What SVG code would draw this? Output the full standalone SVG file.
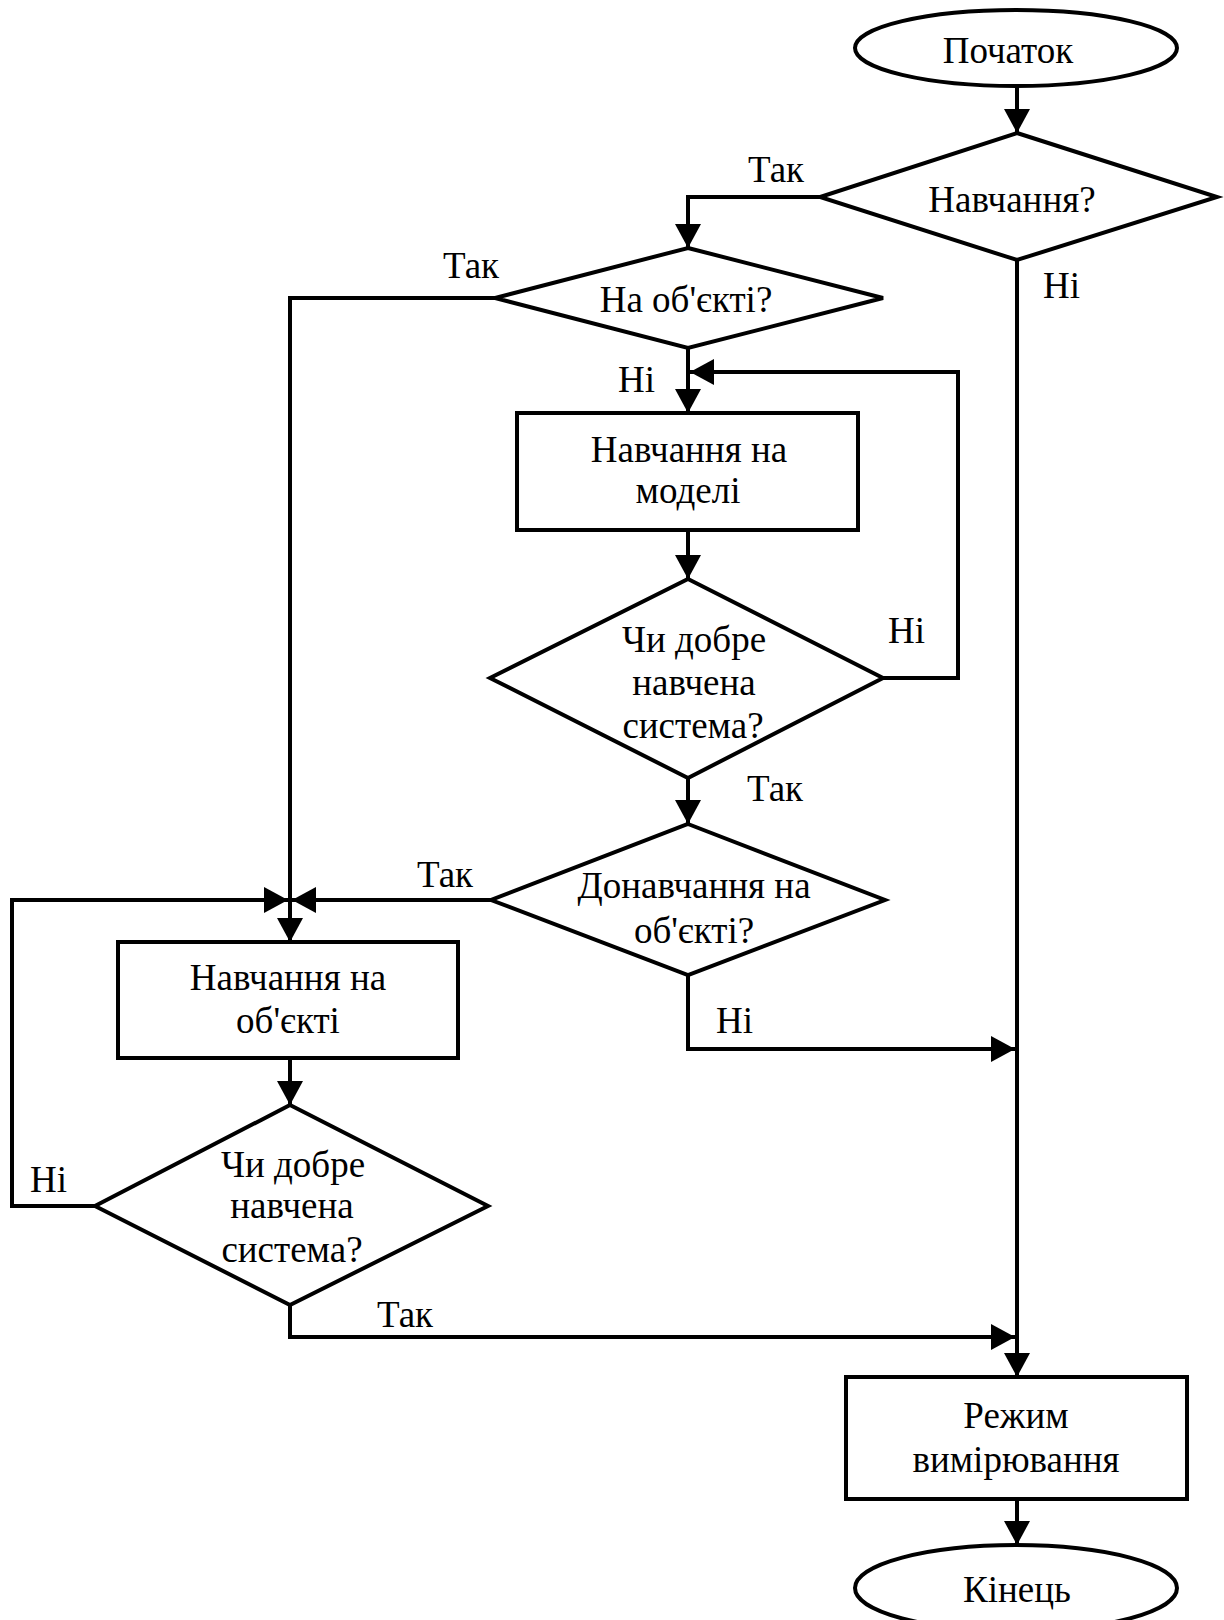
<svg xmlns="http://www.w3.org/2000/svg" width="1224" height="1620" viewBox="0 0 1224 1620">
  <style>
    .shape { fill: #ffffff; stroke: #000000; stroke-width: 4; }
    .wire { fill: none; stroke: #000000; stroke-width: 4; stroke-linejoin: miter; }
    .arrow { marker-end: url(#head); }
    text { font-family: "Liberation Serif", "Times New Roman", serif; font-size: 37px; fill: #000000; }
    .c { text-anchor: middle; }
  </style>
  <defs>
    <marker id="head" viewBox="0 0 24 26" refX="24" refY="13" markerWidth="24" markerHeight="26" markerUnits="userSpaceOnUse" orient="auto">
      <path d="M0,0 L24,13 L0,26 Z" fill="#000000"/>
    </marker>
  </defs>

  <!-- connectors -->
  <g id="connectors">
    <path class="wire arrow" d="M1017,86 V133"/>
    <path class="wire arrow" d="M820,197 H688 V248"/>
    <path class="wire arrow" d="M1017,260 V1377"/>
    <path class="wire arrow" d="M495,298 H290 V942"/>
    <path class="wire arrow" d="M688,348 V413"/>
    <path class="wire arrow" d="M688,530 V579"/>
    <path class="wire arrow" d="M883,678 H958 V372 H690"/>
    <path class="wire arrow" d="M688,778 V824"/>
    <path class="wire arrow" d="M491,900 H292"/>
    <path class="wire arrow" d="M688,975 V1049 H1015"/>
    <path class="wire arrow" d="M290,1058 V1105"/>
    <path class="wire arrow" d="M95,1206 H12 V900 H288"/>
    <path class="wire arrow" d="M290,1305 V1337 H1015"/>
    <path class="wire arrow" d="M1017,1499 V1545"/>

    <text x="748" y="182">Так</text>
    <text x="1043" y="298">Ні</text>
    <text x="443" y="278">Так</text>
    <text x="618" y="392">Ні</text>
    <text x="888" y="643">Ні</text>
    <text x="747" y="801">Так</text>
    <text x="417" y="887">Так</text>
    <text x="716" y="1033">Ні</text>
    <text x="30" y="1192">Ні</text>
    <text x="377" y="1327">Так</text>
  </g>

  <g id="start">
    <ellipse class="shape" cx="1016" cy="48" rx="161" ry="38"/>
    <text class="c" x="1008" y="63">Початок</text>
  </g>

  <g id="q-training">
    <polygon class="shape" points="1017,133 1217,197 1017,260 820,197"/>
    <text class="c" x="1012" y="212">Навчання?</text>
  </g>

  <g id="q-on-object">
    <polygon class="shape" points="688,248 883,298 688,348 495,298"/>
    <text class="c" x="686" y="312">На об'єкті?</text>
  </g>

  <g id="train-model">
    <rect class="shape" x="517" y="413" width="341" height="117"/>
    <text class="c" x="689" y="462">Навчання на</text>
    <text class="c" x="688" y="503">моделі</text>
  </g>

  <g id="q-trained-model">
    <polygon class="shape" points="688,579 883,678 688,778 490,678"/>
    <text class="c" x="694" y="652">Чи добре</text>
    <text class="c" x="694" y="695">навчена</text>
    <text class="c" x="693" y="738">система?</text>
  </g>

  <g id="q-retrain">
    <polygon class="shape" points="688,824 885,900 688,975 491,900"/>
    <text class="c" x="694" y="898">Донавчання на</text>
    <text class="c" x="694" y="943">об'єкті?</text>
  </g>

  <g id="train-object">
    <rect class="shape" x="118" y="942" width="340" height="116"/>
    <text class="c" x="288" y="990">Навчання на</text>
    <text class="c" x="288" y="1033">об'єкті</text>
  </g>

  <g id="q-trained-object">
    <polygon class="shape" points="290,1105 488,1206 290,1305 95,1206"/>
    <text class="c" x="293" y="1177">Чи добре</text>
    <text class="c" x="292" y="1218">навчена</text>
    <text class="c" x="292" y="1262">система?</text>
  </g>

  <g id="measure">
    <rect class="shape" x="846" y="1377" width="341" height="122"/>
    <text class="c" x="1016" y="1428">Режим</text>
    <text class="c" x="1016" y="1472">вимірювання</text>
  </g>

  <g id="end">
    <ellipse class="shape" cx="1016" cy="1588" rx="161" ry="43"/>
    <text class="c" x="1017" y="1602">Кінець</text>
  </g>
</svg>
